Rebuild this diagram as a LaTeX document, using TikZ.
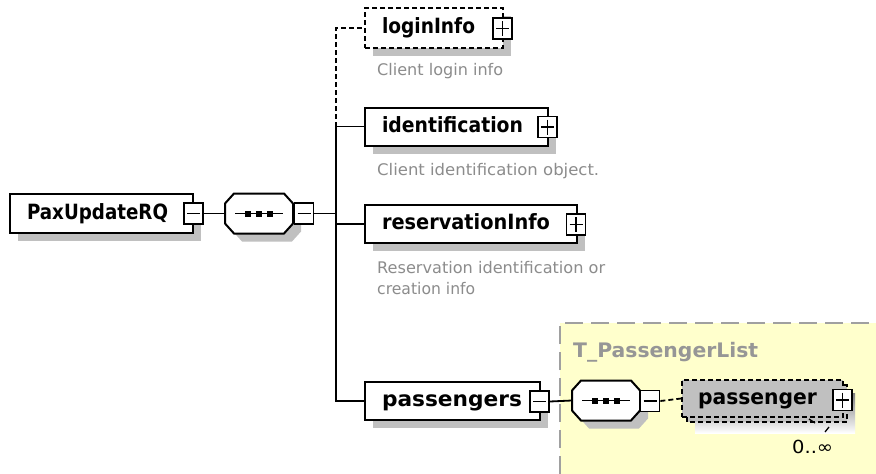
\documentclass[tikz,border=0pt]{standalone}
\usepackage{fontspec}
\setmainfont{DejaVu Sans}
\usepackage{graphicx}
\usetikzlibrary{shadows}
\definecolor{shade}{HTML}{C0C0C0}
\definecolor{yel}{HTML}{FFFFCC}
\definecolor{bord}{HTML}{A0A0A0}
\definecolor{desc}{HTML}{8C8C8C}
\definecolor{ttl}{HTML}{969696}
\newcommand{\fitw}[2]{\resizebox{#1pt}{\height}{#2}}
\newcommand{\octo}[1]{\path[#1] (-34,-10) -- (-25,-20) -- (25,-20) -- (34,-10) -- (34,10) -- (25,20) -- (-25,20) -- (-34,10) -- cycle;}
\newcommand{\seqsym}[1]{%
  \begin{scope}[shift={(#1.center)}]
    \begin{scope}[shift={(8,8)}]\octo{fill=shade}\end{scope}
    \octo{fill=white,draw=black,line width=2pt}
    \draw[line width=1.8pt] (-24,0) -- (24,0);
    \foreach \dx in {-11,0,11}{\fill (\dx,0) +(-3,-3) rectangle +(3,3);}
  \end{scope}}
\tikzset{
  conn/.style={line width=1.8pt},
  dconn/.style={line width=1.8pt, dash pattern=on 5pt off 3pt},
  elem/.style={draw, line width=2pt, fill=white, inner xsep=17pt, inner ysep=0pt,
    align=left, text height=15pt, text depth=4pt, font=\bfseries\fontsize{21}{24}\selectfont,
    general shadow={fill=shade, shadow xshift=8pt, shadow yshift=-8pt}},
  optelem/.style={elem, dash pattern=on 5pt off 3pt},
  seqhold/.style={minimum width=68pt, minimum height=40pt, inner sep=0pt},
  sgnbox/.style={draw, line width=1.8pt, fill=white, minimum width=19pt, minimum height=21pt, inner sep=0pt},
  minusbox/.style={sgnbox, path picture={\draw[line width=1.6pt]
      ([xshift=3pt]path picture bounding box.west) -- ([xshift=-3pt]path picture bounding box.east);}},
  plusbox/.style={sgnbox, path picture={\draw[line width=1.6pt]
      ([xshift=3pt]path picture bounding box.west) -- ([xshift=-3pt]path picture bounding box.east)
      ([yshift=-3pt]path picture bounding box.north) -- ([yshift=3pt]path picture bounding box.south);}},
  desctext/.style={anchor=west, inner sep=0pt, text=desc, font=\fontsize{16}{19}\selectfont}
}
\begin{document}
\begin{tikzpicture}[x=1pt,y=-1pt]
\useasboundingbox (0,0) rectangle (876,474);
\fill[white] (0,0) rectangle (876,474);
% yellow type region
\fill[yel] (560,323) rectangle (876,474);
\draw[bord, line width=2pt, dash pattern=on 18pt off 8pt] (560,474) -- (560,323) -- (876,323);
\node[anchor=west, inner sep=0pt, text=ttl, font=\bfseries\fontsize{20}{22}\selectfont] (tpl) at (573,352) {\fitw{185}{T\_PassengerList}};

% root element
\node[elem, text width=149pt, minimum height=39pt] (pax) at (101.5,213.5) {\fitw{141}{PaxUpdateRQ}};
\node[minusbox] (paxm) at (193.5,213.5) {};

% sequence 1
\node[seqhold] (seq1) at (259,213.5) {};
\seqsym{seq1}
\node[minusbox] (seq1m) at (304,213.5) {};

% children
\node[optelem, text width=104pt, minimum height=40pt] (login) at (434,28) {\fitw{93}{loginInfo}};
\node[plusbox] (loginp) at (502.5,28.5) {};
\node[desctext] (logind) at (377,71) {\fitw{126}{Client login info}};

\node[elem, text width=149pt, minimum height=38pt] (ident) at (456.5,126.5) {\fitw{141}{identification}};
\node[plusbox] (identp) at (547.5,127) {};
\node[desctext] (identd) at (377,171) {\fitw{222}{Client identification object.}};

\node[elem, text width=178pt, minimum height=38pt] (resv) at (471,224) {\fitw{168}{reservationInfo}};
\node[plusbox] (resvp) at (576,224.5) {};
\node[desctext] (resvd1) at (377,268) {\fitw{228}{Reservation identification or}};
\node[desctext] (resvd2) at (377,289) {\fitw{98}{creation info}};

\node[elem, text width=141pt, minimum height=38pt] (pass) at (452.5,401) {\fitw{140}{passengers}};
\node[minusbox] (passm) at (539.5,401.5) {};

% connectors of root
\coordinate (b1) at (336,127);
\coordinate (b4) at (336,401);
\draw[conn] (paxm.east) -- (seq1.west);
\draw[conn] (seq1m.east) -- (seq1m.east -| b1);
\draw[conn] (ident.west) -| (b4) -- (pass.west);
\draw[conn] (resv.west) -- (resv.west -| b1);
\draw[dconn] (b1) |- (login.west);

% sequence 2
\node[seqhold] (seq2) at (606,400.5) {};
\seqsym{seq2}
\node[minusbox] (seq2m) at (650,401) {};
\draw[conn] (passm.east) -- (seq2.west);

% passenger (0..unbounded)
\fill[shade] (695,393) rectangle (855,433);
\draw[dash pattern=on 5pt off 3pt, line width=1.8pt, fill=shade] (687,385) rectangle (847,422);
\node[draw, fill=shade, line width=1.8pt, dash pattern=on 5pt off 3pt, inner xsep=16pt, inner ysep=0pt,
      text width=129pt, align=left, minimum height=37pt, text height=15pt, text depth=4pt,
      font=\bfseries\fontsize{21}{24}\selectfont]
      (psg) at (762.5,398.5) {\fitw{119}{passenger}};
\node[plusbox] (psgp) at (842.5,400) {};
\draw[dconn] (seq2m.east) -- (psg.west);
\draw[line width=1.3pt] (809,419) -- (815,423);
\draw[line width=1.3pt] (829,427) -- (825,432);
\node[anchor=west, inner sep=0pt, font=\fontsize{18}{20}\selectfont] (mult) at (792,447) {\fitw{41}{0..∞}};
\end{tikzpicture}
\end{document}
